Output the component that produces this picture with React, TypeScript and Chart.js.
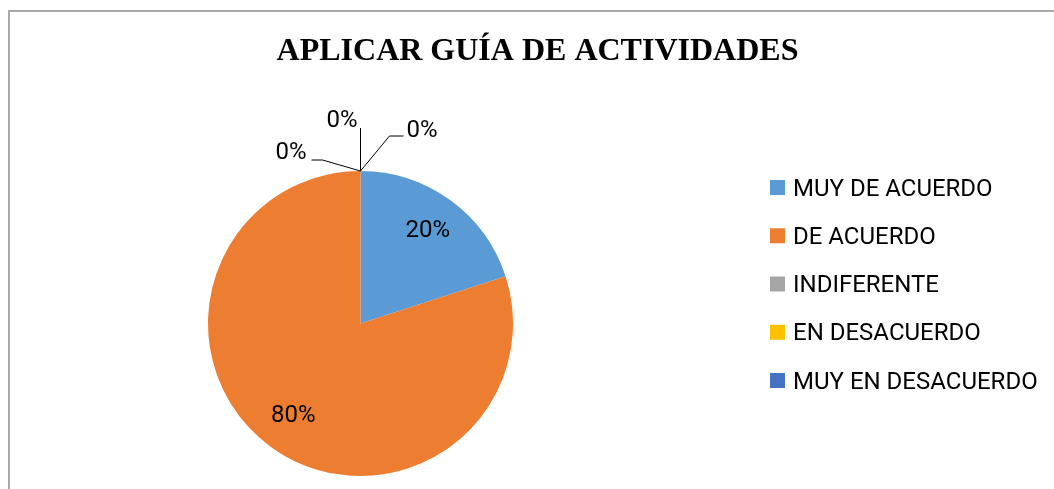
import { useEffect, useRef } from "react";
import { Chart, registerables } from "chart.js";

Chart.register(...registerables);

const TITLE = "APLICAR GUÍA DE ACTIVIDADES";
const CATEGORIES = [
  "MUY DE ACUERDO",
  "DE ACUERDO",
  "INDIFERENTE",
  "EN DESACUERDO",
  "MUY EN DESACUERDO",
];
const VALUES = [20, 80, 0, 0, 0];
const COLORS = ["#5B9BD5", "#ED7D31", "#A5A5A5", "#FFC000", "#4472C4"];

const LABEL_FONT = "24px Roboto";
const TITLE_FONT = "bold 32px 'Liberation Serif'";

// leader-line layout for zero-value labels, relative to the slice's anchor point on the rim
const ZERO_LABEL_LAYOUT = [
  { elbow: [29, -35], end: [43, -35], text: [46, -40], align: "left" as CanvasTextAlign },
  { elbow: [0, -43], end: [0, -43], text: [-3, -50], align: "right" as CanvasTextAlign },
  { elbow: [-38, -11], end: [-49, -11], text: [-54, -18], align: "right" as CanvasTextAlign },
];

const decorPlugin = {
  id: "decor",
  afterDraw(chart: any) {
    const ctx: CanvasRenderingContext2D = chart.ctx;
    const meta = chart.getDatasetMeta(0);
    const data: number[] = chart.data.datasets[0].data;
    const total = data.reduce((a: number, b: number) => a + b, 0);
    ctx.save();

    // title
    ctx.fillStyle = "#000";
    ctx.font = TITLE_FONT;
    ctx.textAlign = "center";
    ctx.textBaseline = "alphabetic";
    ctx.fillText(TITLE, 537.5, 60);

    // data labels
    ctx.font = LABEL_FONT;
    let zeroIdx = 0;
    meta.data.forEach((arc: any, i: number) => {
      const { x, y, startAngle, endAngle, outerRadius } = arc.getProps(
        ["x", "y", "startAngle", "endAngle", "outerRadius"],
        true
      );
      const v = data[i];
      const txt = `${Math.round((v / total) * 100)}%`;
      if (v > 0) {
        const mid = (startAngle + endAngle) / 2;
        const r = outerRadius * 0.75;
        ctx.textAlign = "center";
        ctx.textBaseline = "middle";
        ctx.fillStyle = "#000";
        ctx.fillText(txt, x + Math.cos(mid) * r, y + Math.sin(mid) * r);
      } else {
        const ax = x + Math.cos(startAngle) * outerRadius;
        const ay = y + Math.sin(startAngle) * outerRadius;
        const lay = ZERO_LABEL_LAYOUT[zeroIdx % ZERO_LABEL_LAYOUT.length];
        zeroIdx++;
        ctx.strokeStyle = "#000";
        ctx.lineWidth = 1;
        ctx.beginPath();
        ctx.moveTo(ax, ay);
        ctx.lineTo(ax + lay.elbow[0], ay + lay.elbow[1]);
        ctx.lineTo(ax + lay.end[0], ay + lay.end[1]);
        ctx.stroke();
        ctx.textAlign = lay.align;
        ctx.textBaseline = "middle";
        ctx.fillStyle = "#000";
        ctx.fillText(txt, ax + lay.text[0], ay + lay.text[1]);
      }
    });

    // legend
    const labels: string[] = chart.data.labels;
    const colors: string[] = chart.data.datasets[0].backgroundColor;
    ctx.font = LABEL_FONT;
    ctx.textAlign = "left";
    ctx.textBaseline = "alphabetic";
    labels.forEach((lab, i) => {
      const rowY = 180 + i * 48.25;
      ctx.fillStyle = colors[i];
      ctx.fillRect(770, rowY, 15, 15);
      ctx.fillStyle = "#000";
      ctx.fillText(lab, 793, rowY + 15.5);
    });
    ctx.restore();
  },
};

export default function App() {
  const canvasRef = useRef<HTMLCanvasElement | null>(null);

  useEffect(() => {
    if (!canvasRef.current) return;
    const chart = new Chart(canvasRef.current, {
      type: "pie",
      data: {
        labels: CATEGORIES,
        datasets: [
          {
            data: VALUES,
            backgroundColor: COLORS,
            borderWidth: 0,
          },
        ],
      },
      options: {
        animation: false,
        responsive: true,
        maintainAspectRatio: false,
        layout: { padding: { top: 171, bottom: 13, left: 208, right: 541 } },
        plugins: {
          legend: { display: false },
          title: { display: false },
          tooltip: { enabled: false },
        },
      },
      plugins: [decorPlugin],
    });
    return () => chart.destroy();
  }, []);

  return (
    <div
      style={{
        position: "fixed",
        left: 0,
        top: 0,
        width: 1054,
        height: 489,
        background: "#fff",
        overflow: "hidden",
      }}
    >
      <div
        style={{
          position: "absolute",
          left: 8,
          top: 10,
          width: 1100,
          height: 600,
          borderLeft: "2px solid #A9A9A9",
          borderTop: "2px solid #A9A9A9",
        }}
      />
      <div style={{ position: "absolute", left: 0, top: 0, width: 1054, height: 489 }}>
        <canvas ref={canvasRef} />
      </div>
    </div>
  );
}
